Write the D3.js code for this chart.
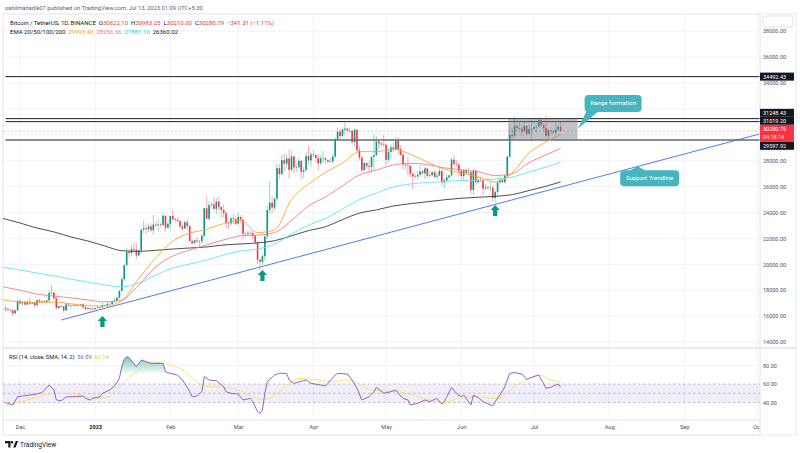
<!DOCTYPE html>
<html>
<head>
<meta charset="utf-8">
<script src="https://cdn.jsdelivr.net/npm/d3@7"></script>
<style>
body { margin: 0; background: #fff; }
svg { display: block; font-family: Roboto, "Liberation Sans", sans-serif; }
</style>
</head>
<body>
<div id="canvas"></div>
<script>
"use strict"

let drawingWidth = 800;
let drawingHeight = 453;

/* Daily BTC/USDT candles, one per day starting at firstDay: [open, high, low, close] */
let firstDay = "2022-11-25";
let candles = [
    // Nov 25 - 30
    [16600,16810,16330,16520],[16520,16680,16400,16460],[16460,16600,16400,16440],[16440,16490,15990,16220],[16220,16530,16110,16440],[16440,17250,16430,17170],
    // Dec
    [17170,17320,16870,16980],[16980,17110,16790,17100],[17100,17160,16860,16890],[16890,17200,16880,17110],[17110,17430,16880,16970],
    [16970,17110,16910,17090],[17090,17140,16680,16840],[16840,17300,16730,17230],[17230,17360,17060,17130],[17130,17230,17090,17130],
    [17130,17270,17070,17090],[17090,17240,16870,17210],[17210,18000,17090,17780],[17780,18390,17660,17810],[17810,17850,17280,17360],
    [17360,17530,16530,16630],[16630,16800,16580,16780],[16780,16860,16670,16740],[16740,16820,16260,16440],[16440,17060,16400,16900],
    [16900,16920,16760,16820],[16820,16870,16560,16830],[16830,16960,16750,16780],[16780,16870,16780,16840],[16840,16860,16730,16830],
    [16830,16940,16790,16920],[16920,16970,16590,16700],[16700,16780,16470,16550],[16550,16660,16490,16630],[16630,16650,16330,16600],
    [16600,16640,16470,16540],
    // Jan
    [16540,16630,16500,16620],[16620,16790,16550,16680],[16680,16760,16570,16670],[16670,17090,16660,16850],[16850,16880,16750,16830],
    [16830,17040,16680,16950],[16950,16970,16910,16940],[16940,17180,16910,17120],[17120,17400,17100,17180],[17180,17500,17160,17440],
    [17440,18000,17320,17940],[17940,19110,17910,18850],[18850,19990,18710,19930],[19930,21260,19890,20950],[20950,21050,20550,20870],
    [20870,21470,20620,21180],[21180,21650,20900,21130],[21130,21650,20400,20680],[20680,21190,20660,21070],[21070,22750,20860,22670],
    [22670,23380,22420,22780],[22780,23080,22290,22710],[22710,23170,22500,22920],[22920,23160,22460,22630],[22630,23810,22300,23060],
    [23060,23290,22860,23010],[23010,23500,22530,23080],[23080,23180,22880,23030],[23030,23960,22990,23740],[23740,23800,22540,22830],
    [22830,23310,22720,23120],
    // Feb
    [23120,23760,22760,23730],[23730,24250,23370,23490],[23490,23580,23210,23430],[23430,23590,23250,23330],[23330,23440,22760,22930],
    [22930,23160,22630,22760],[22760,23360,22750,23250],[23250,23450,22680,22960],[22960,23010,21690,21800],[21800,21940,21450,21630],
    [21630,21900,21600,21860],[21860,22090,21630,21780],[21780,21890,21350,21780],[21780,22320,21530,22200],[22200,24380,22050,24330],
    [24330,25250,23510,23520],[23520,24880,23340,24570],[24570,24760,24460,24630],[24630,25190,24220,24280],[24280,25120,23840,24840],
    [24840,25250,24150,24440],[24440,24470,23580,24190],[24190,24600,23610,23950],[23950,24130,22860,23180],[23180,23210,22720,23160],
    [23160,23690,22970,23550],[23550,23880,23110,23490],[23490,23600,23020,23140],
    // Mar
    [23140,24000,23020,23650],[23650,23780,23200,23470],[23470,23480,21970,22360],[22360,22420,22090,22350],[22350,22620,22200,22430],
    [22430,22600,22270,22410],[22410,22550,21930,22200],[22200,22270,21580,21700],[21700,21820,20050,20360],[20360,20370,19550,20190],
    [20190,20790,19950,20630],[20630,22190,20280,22160],[22160,24500,21920,24200],[24200,26390,23900,24750],[24750,25250,23930,24380],
    [24380,25210,24120,25060],[25060,27760,24890,27420],[27420,27730,26580,26970],[26970,28470,26900,28040],[28040,28550,27150,27770],
    [27770,28500,27380,28170],[28170,28880,26600,27300],[27300,28750,27150,28330],[28330,28400,27020,27490],[27490,27800,27160,27490],
    [27490,28200,27450,27990],[27990,28040,26550,27140],[27140,27500,26640,27270],[27270,28650,27240,28350],[28350,29170,27720,28030],
    [28030,28660,27530,28480],
    // Apr
    [28480,28820,28250,28450],[28450,28530,27870,28200],[28200,28500,27210,27800],[27800,28440,27660,28180],[28180,28780,27820,28180],
    [28180,28190,27710,28050],[28050,28100,27780,27930],[27930,28170,27880,27950],[27950,28530,27800,28330],[28330,29770,28170,29660],
    [29660,30550,29620,30230],[30230,30490,29680,29900],[29900,30600,29880,30400],[30400,31000,29950,30490],[30490,30620,30240,30320],
    [30320,30550,30120,30320],[30320,30340,29270,29440],[29440,30490,29120,30400],[30400,30410,28600,28820],[28820,29100,28010,28250],
    [28250,28380,27130,27270],[27270,27880,27170,27820],[27820,27820,27340,27590],[27590,28000,26970,27520],[27520,28400,27030,28300],
    [28300,30020,27240,28430],[28430,29890,28380,29480],[29480,29600,28880,29340],[29340,29460,29090,29250],[29250,29970,29100,29230],
    // May
    [29230,29340,27670,28070],[28070,28880,27870,28680],[28680,29270,28110,29030],[29030,29380,28670,28850],[28850,29850,28810,29530],
    [29530,29840,28390,28900],[28900,29180,28380,28450],[28450,28660,27320,27690],[27690,27830,27360,27650],[27650,28330,26870,27620],
    [27620,27650,26740,26990],[26990,27080,25810,26800],[26800,27040,26700,26780],[26780,27200,26570,26920],[26920,27670,26740,27170],
    [27170,27300,26860,27030],[27030,27480,26580,27400],[27400,27480,26650,26830],[26830,27190,26680,26890],[26890,27160,26830,27120],
    [27120,27280,26680,26750],[26750,27070,26510,26850],[26850,27500,26830,27220],[27220,27220,26090,26330],[26330,26630,25870,26480],
    [26480,26940,26330,26720],[26720,26890,26580,26870],[26870,28200,26790,28080],[28080,28450,27560,27740],[27740,28040,27550,27700],
    [27700,27830,26820,27210],
    // Jun
    [27210,27350,26600,26820],[26820,27300,26500,27250],[27250,27340,26920,27070],[27070,27450,26950,27120],[27120,27130,25390,25740],
    [25740,27350,25350,27230],[27230,27370,26120,26340],[26340,26800,26210,26500],[26500,26790,26320,26480],[26480,26530,25370,25850],
    [25850,26210,25730,25940],[25940,26090,25710,25900],[25900,26430,25640,25920],[25920,26100,24820,25120],[25120,25750,24760,25580],
    [25580,26470,25170,26330],[26330,26770,26160,26510],[26510,26680,26290,26340],[26340,26890,26250,26840],[26840,28400,26630,28310],
    [28310,30800,28260,30000],[30000,30500,29530,29890],[29890,31430,29810,30690],[30690,30800,30250,30530],[30530,31060,30270,30470],
    [30470,30660,29920,30270],[30270,31000,30230,30700],[30700,30710,29930,30080],[30080,30830,30040,30450],[30450,31280,29500,30470],
    // Jul 1 - 12
    [30470,30660,30320,30590],[30590,30800,30170,30620],[30620,31380,30560,31160],[31160,31320,30640,30770],[30770,30880,30200,30510],
    [30510,31500,29850,29900],[29900,30450,29700,30350],[30350,30380,30050,30290],[30290,30440,30070,30170],[30170,31050,29950,30410],
    [30410,30800,30290,30622.10],[30622.10,30983.25,30210.00,30280.79]
];

/* EMA 20/50/100/200, weekly */
let emaDates = ["2022-11-23","2022-12-01","2022-12-08","2022-12-15","2022-12-22","2022-12-29","2023-01-05","2023-01-12",
    "2023-01-19","2023-01-26","2023-02-02","2023-02-09","2023-02-16","2023-02-23","2023-03-02","2023-03-09","2023-03-16",
    "2023-03-23","2023-03-30","2023-04-06","2023-04-13","2023-04-20","2023-04-27","2023-05-04","2023-05-11","2023-05-18",
    "2023-05-25","2023-06-01","2023-06-08","2023-06-15","2023-06-22","2023-06-29","2023-07-06","2023-07-12"];
let ema20 = [17300,17090,17050,17080,16950,16800,16780,17200,18900,20500,21800,22400,22700,23150,23400,22450,22650,
    25000,26200,27100,27800,28700,28700,28900,28500,27900,27350,27050,26750,26350,27050,28600,29450,29993.40];
let ema50 = [18300,18000,17700,17550,17400,17250,17100,17250,18400,19800,20640,21100,21500,21880,22200,22250,22450,
    23400,24500,25200,26050,26900,27280,27670,27800,27700,27450,27300,27150,26850,27000,27850,28450,28956.36];
let ema100 = [19800,19560,19330,19100,18860,18630,18400,18250,18560,19170,19710,20020,20330,20720,21030,21180,21570,
    22340,23030,23540,24270,25000,25500,25970,26200,26320,26400,26470,26500,26590,26740,27130,27510,27881.16];
let ema200 = [23580,23190,22800,22500,22110,21800,21410,21050,21000,21080,21180,21260,21340,21490,21570,21650,21820,
    22200,22600,22900,23450,23950,24200,24500,24680,24830,24980,25100,25180,25250,25380,25700,26030,26360.02];

let rsiDates = ["2022-11-25","2022-11-27","2022-11-28","2022-11-30","2022-12-02","2022-12-05","2022-12-08","2022-12-10",
    "2022-12-13","2022-12-15","2022-12-16","2022-12-18","2022-12-20","2022-12-22","2022-12-24","2022-12-27","2022-12-28",
    "2022-12-30","2022-12-31","2023-01-03","2023-01-04","2023-01-07","2023-01-09","2023-01-11","2023-01-12","2023-01-13",
    "2023-01-14","2023-01-15","2023-01-18","2023-01-20","2023-01-24","2023-01-29","2023-01-30","2023-02-01","2023-02-04",
    "2023-02-06","2023-02-07","2023-02-09","2023-02-10","2023-02-12","2023-02-14","2023-02-15","2023-02-17","2023-02-20",
    "2023-02-23","2023-02-24","2023-02-26","2023-03-01","2023-03-03","2023-03-06","2023-03-07","2023-03-09","2023-03-10",
    "2023-03-11","2023-03-12","2023-03-13","2023-03-16","2023-03-18","2023-03-21","2023-03-22","2023-03-24","2023-03-29",
    "2023-03-31","2023-04-04","2023-04-06","2023-04-10","2023-04-11","2023-04-15","2023-04-17","2023-04-19","2023-04-21",
    "2023-04-24","2023-04-26","2023-04-27","2023-04-30","2023-05-03","2023-05-05","2023-05-06","2023-05-08","2023-05-10",
    "2023-05-11","2023-05-14","2023-05-17","2023-05-19","2023-05-22","2023-05-24","2023-05-25","2023-05-28","2023-05-30",
    "2023-06-01","2023-06-02","2023-06-05","2023-06-06","2023-06-08","2023-06-10","2023-06-14","2023-06-15","2023-06-17",
    "2023-06-19","2023-06-21","2023-06-23","2023-06-26","2023-06-28","2023-06-30","2023-07-03","2023-07-06","2023-07-08",
    "2023-07-10","2023-07-11","2023-07-12"];
let rsiValues = [39.8,38.4,37.3,46.3,47.0,48.1,49.2,50.6,
    58.9,53.5,42.7,42.0,46.0,46.3,46.3,47.0,44.5,
    42.7,44.5,46.3,49.9,53.5,57.8,66.1,78.7,86.7,
    89.5,88.5,78.7,86.0,82.3,82.3,73.3,71.5,69.7,
    64.3,60.7,51.7,46.3,47.0,51.7,67.9,64.3,63.6,
    57.1,51.7,49.9,49.2,42.7,44.5,40.9,30.1,28.3,
    31.9,49.9,62.5,69.7,71.5,71.5,64.3,60.7,64.3,
    60.7,58.9,57.8,69.7,71.5,70.8,64.3,55.3,42.7,
    46.3,51.7,56.4,49.9,51.7,53.5,49.9,44.5,42.7,
    37.3,39.1,42.7,40.9,44.5,38.4,40.9,56.4,49.9,
    46.3,48.1,37.3,48.1,45.2,40.9,36.2,40.9,48.1,
    57.1,71.5,72.3,70.8,65.0,67.2,69.7,55.3,56.4,
    58.9,60.0,56.59];
let rsiSmaDates = ["2022-11-25","2022-12-01","2022-12-09","2022-12-13","2022-12-17","2022-12-26","2022-12-31","2023-01-07",
    "2023-01-09","2023-01-13","2023-01-19","2023-01-25","2023-01-29","2023-02-03","2023-02-08","2023-02-13","2023-02-16",
    "2023-02-24","2023-03-01","2023-03-07","2023-03-11","2023-03-15","2023-03-19","2023-03-23","2023-03-26","2023-04-03",
    "2023-04-09","2023-04-15","2023-04-19","2023-04-25","2023-05-06","2023-05-14","2023-05-22","2023-05-25","2023-05-31",
    "2023-06-08","2023-06-13","2023-06-17","2023-06-21","2023-06-28","2023-07-03","2023-07-08","2023-07-12"];
let rsiSmaValues = [36.2,40.9,46.3,49.2,49.9,48.1,44.5,46.3,
    51.7,62.5,75.1,84.1,82.3,78.7,71.5,60.7,57.1,
    56.4,53.5,46.3,42.7,46.3,53.5,62.5,66.1,64.3,
    62.5,64.3,60.7,53.5,51.7,46.3,40.9,39.8,44.5,
    46.3,44.5,44.5,53.5,64.3,69.7,64.3,62.14];

/* Drawn levels, trendline, markers and notes */
let levelStart = "2022-11-25";
let levelPrices = [34492.43, 31248.43, 31019.20, 29597.92];
let countdown = "04:18:14";
let rangeBox = ["2023-06-21", "2023-07-19"];
let trendline = [["2022-12-18", 15700], ["2023-10-02", 30060]];
let arrowPoints = [["2023-01-04", 16000], ["2023-03-11", 19560], ["2023-06-15", 24580]];
let rangeNote = ["Range formation", "2023-07-19", 30450];
let trendNote = ["Support Trendline", "2023-08-13"];

/* Axis ticks */
let priceTicks = [14000, 16000, 18000, 20000, 22000, 24000, 26000, 28000, 30000, 32000, 34000, 36000, 38000];
let rsiTicks = [40, 60, 80];
let rsiLevels = [40, 50, 60];
let monthTicks = ["2022-12-01","2023-01-01","2023-02-01","2023-03-01","2023-04-01","2023-05-01","2023-06-01",
    "2023-07-01","2023-08-01","2023-09-01","2023-10-01"];
let monthLabels = ["Dec", "2023", "Feb", "Mar", "Apr", "May", "Jun", "Jul", "Aug", "Sep", "Oct"];

let upColor = "#089981";
let downColor = "#f23645";
let textColor = "#131722";
let axisText = "#50535e";
let gridColor = "#f0f3fa";
let borderColor = "#e0e3eb";

let parseDate = d3.utcParse("%Y-%m-%d");
let dayOf = i => d3.utcDay.offset(parseDate(firstDay), i);

let x = d3.scaleUtc()
    .domain([parseDate("2022-12-01"), parseDate("2023-10-01")])
    .range([20, 757]);
let y = d3.scaleLinear().domain([14000, 38000]).range([342, 31.2]);
let rsiY = d3.scaleLinear().domain([40, 80]).range([402.5, 365.5]);

let paneLeft = 3, paneRight = 760;
let priceTop = 14, priceBottom = 347;
let rsiTop = 349, rsiBottom = 420, frameBottom = 435;

let drawing = d3.select("#canvas")
    .append("svg")
    .attr("width", drawingWidth)
    .attr("height", drawingHeight);

drawing.append("rect")
    .attr("width", drawingWidth)
    .attr("height", drawingHeight)
    .attr("fill", "#ffffff");

let defs = drawing.append("defs");
defs.append("clipPath").attr("id", "priceClip")
    .append("rect")
    .attr("x", paneLeft).attr("y", priceTop)
    .attr("width", paneRight - paneLeft).attr("height", priceBottom - priceTop);
defs.append("clipPath").attr("id", "rsiClip")
    .append("rect")
    .attr("x", paneLeft).attr("y", rsiTop)
    .attr("width", paneRight - paneLeft).attr("height", rsiBottom - rsiTop);
let obGrad = defs.append("linearGradient").attr("id", "obGrad")
    .attr("gradientUnits", "userSpaceOnUse")
    .attr("x1", 0).attr("x2", 0)
    .attr("y1", rsiY(92)).attr("y2", rsiY(70));
obGrad.append("stop").attr("offset", 0).attr("stop-color", upColor).attr("stop-opacity", 0.6);
obGrad.append("stop").attr("offset", 1).attr("stop-color", upColor).attr("stop-opacity", 0);

/* Grid */
let grid = drawing.append("g");
grid.selectAll(".hgrid")
    .data(priceTicks)
    .enter().append("line")
    .attr("x1", paneLeft).attr("x2", paneRight)
    .attr("y1", d => y(d)).attr("y2", d => y(d))
    .attr("stroke", gridColor);
grid.append("line")
    .attr("x1", paneLeft).attr("x2", paneRight)
    .attr("y1", rsiY(80)).attr("y2", rsiY(80))
    .attr("stroke", gridColor);
grid.selectAll(".vgrid")
    .data(monthTicks)
    .enter().append("line")
    .attr("x1", d => x(parseDate(d))).attr("x2", d => x(parseDate(d)))
    .attr("y1", priceTop).attr("y2", rsiBottom)
    .attr("stroke", gridColor);

/* Frame and pane separators */
drawing.append("rect")
    .attr("x", paneLeft).attr("y", priceTop)
    .attr("width", 796 - paneLeft).attr("height", frameBottom - priceTop)
    .attr("fill", "none").attr("stroke", borderColor);
drawing.append("line")
    .attr("x1", paneLeft).attr("x2", 796)
    .attr("y1", 348).attr("y2", 348)
    .attr("stroke", borderColor).attr("stroke-width", 1.5);
drawing.append("line")
    .attr("x1", paneLeft).attr("x2", paneRight)
    .attr("y1", rsiBottom).attr("y2", rsiBottom)
    .attr("stroke", borderColor);

/* Price pane */
let pricePane = drawing.append("g").attr("clip-path", "url(#priceClip)");

pricePane.selectAll(".level")
    .data(levelPrices)
    .enter().append("line")
    .attr("x1", x(parseDate(levelStart))).attr("x2", paneRight)
    .attr("y1", d => y(d)).attr("y2", d => y(d))
    .attr("stroke", "#1e1e1e").attr("stroke-width", 1);

let lastCandle = candles[candles.length - 1];
let lastPrice = lastCandle[3];

pricePane.append("line")
    .attr("x1", paneLeft).attr("x2", paneRight)
    .attr("y1", y(lastPrice)).attr("y2", y(lastPrice))
    .attr("stroke", downColor).attr("stroke-opacity", 0.35)
    .attr("stroke-dasharray", "2,2");

pricePane.append("line")
    .attr("x1", x(parseDate(trendline[0][0]))).attr("y1", y(trendline[0][1]))
    .attr("x2", x(parseDate(trendline[1][0]))).attr("y2", y(trendline[1][1]))
    .attr("stroke", "#3d6cf5").attr("stroke-width", 0.9);

/* Candles */
let candleGroup = pricePane.append("g");
let bodyWidth = 1.6;
candleGroup.selectAll(".wick")
    .data(candles)
    .enter().append("line")
    .attr("x1", (d, i) => x(dayOf(i))).attr("x2", (d, i) => x(dayOf(i)))
    .attr("y1", d => y(d[1])).attr("y2", d => y(d[2]))
    .attr("stroke", d => d[3] >= d[0] ? upColor : downColor)
    .attr("stroke-opacity", 0.7)
    .attr("stroke-width", 0.6);
candleGroup.selectAll(".body")
    .data(candles)
    .enter().append("rect")
    .attr("x", (d, i) => x(dayOf(i)) - bodyWidth / 2)
    .attr("y", d => y(Math.max(d[0], d[3])))
    .attr("width", bodyWidth)
    .attr("height", d => Math.max(0.6, Math.abs(y(d[0]) - y(d[3]))))
    .attr("fill", d => d[3] >= d[0] ? upColor : downColor);

/* EMA lines */
let emaLine = d3.line()
    .x((d, i) => x(parseDate(emaDates[i])))
    .y(d => y(d))
    .curve(d3.curveMonotoneX);
let emaSeries = [[ema200, "#3a3a3a"], [ema100, "#5ce8f0"], [ema50, "#f77c80"], [ema20, "#f7a531"]];
emaSeries.forEach(function (s) {
    pricePane.append("path")
        .attr("d", emaLine(s[0]))
        .attr("fill", "none")
        .attr("stroke", s[1])
        .attr("stroke-width", 0.9);
});

/* Range box over the consolidation */
let boxLeft = x(parseDate(rangeBox[0])) - 1.5;
let boxRight = x(parseDate(rangeBox[1]));
pricePane.append("rect")
    .attr("x", boxLeft)
    .attr("y", y(levelPrices[1]))
    .attr("width", boxRight - boxLeft)
    .attr("height", y(levelPrices[3]) - y(levelPrices[1]))
    .attr("fill", "rgba(120,123,134,0.45)");

/* Up arrows at the trendline touches */
pricePane.selectAll(".arrow")
    .data(arrowPoints)
    .enter().append("path")
    .attr("transform", d => "translate(" + x(parseDate(d[0])) + "," + y(d[1]) + ")")
    .attr("d", "M0,0 L4.6,5 L2.1,5 L2.1,11 L-2.1,11 L-2.1,5 L-4.6,5 Z")
    .attr("fill", upColor);

/* Callouts */
let noteColor = "#47b5bf";
let rx = x(parseDate(rangeNote[1])), ry = y(rangeNote[2]);
let rBox = {x: rx + 7, y: ry - 34, w: 57, h: 17};
drawing.append("path")
    .attr("d", "M" + rx + "," + ry + " L" + (rBox.x + 3) + "," + (rBox.y + rBox.h - 3) +
        " L" + (rBox.x + 13) + "," + (rBox.y + rBox.h) + " Z")
    .attr("fill", noteColor);
drawing.append("rect")
    .attr("x", rBox.x).attr("y", rBox.y)
    .attr("width", rBox.w).attr("height", rBox.h)
    .attr("rx", 4)
    .attr("fill", noteColor);
drawing.append("text")
    .attr("x", rBox.x + rBox.w / 2).attr("y", rBox.y + rBox.h / 2 + 2)
    .attr("text-anchor", "middle")
    .attr("font-size", 6.2)
    .attr("fill", "#ffffff")
    .text(rangeNote[0]);

let trendAt = d3.scaleUtc()
    .domain([parseDate(trendline[0][0]), parseDate(trendline[1][0])])
    .range([trendline[0][1], trendline[1][1]]);
let tDate = parseDate(trendNote[1]);
let tx = x(tDate), ty = y(trendAt(tDate));
let tBox = {x: tx - 18, y: ty + 4, w: 59, h: 16};
drawing.append("path")
    .attr("d", "M" + tx + "," + ty + " L" + (tBox.x + 8) + "," + (tBox.y + 1) +
        " L" + (tBox.x + 26) + "," + (tBox.y + 1) + " Z")
    .attr("fill", noteColor);
drawing.append("rect")
    .attr("x", tBox.x).attr("y", tBox.y)
    .attr("width", tBox.w).attr("height", tBox.h)
    .attr("rx", 4)
    .attr("fill", noteColor);
drawing.append("text")
    .attr("x", tBox.x + tBox.w / 2).attr("y", tBox.y + tBox.h / 2 + 2)
    .attr("text-anchor", "middle")
    .attr("font-size", 6)
    .attr("fill", "#ffffff")
    .text(trendNote[0]);

/* RSI pane */
let rsiPane = drawing.append("g").attr("clip-path", "url(#rsiClip)");
rsiPane.append("rect")
    .attr("x", paneLeft).attr("y", rsiY(60))
    .attr("width", paneRight - paneLeft).attr("height", rsiY(40) - rsiY(60))
    .attr("fill", "rgba(126,87,194,0.1)");
rsiPane.selectAll(".rsiLevel")
    .data(rsiLevels)
    .enter().append("line")
    .attr("x1", paneLeft).attr("x2", paneRight)
    .attr("y1", d => rsiY(d)).attr("y2", d => rsiY(d))
    .attr("stroke", "#787b86").attr("stroke-opacity", 0.55)
    .attr("stroke-dasharray", "2.5,2.5").attr("stroke-width", 0.8);

let rsiPoints = rsiDates.map((d, i) => ({date: parseDate(d), v: rsiValues[i]}));
rsiPane.append("path")
    .attr("d", d3.area()
        .x(d => x(d.date))
        .y0(rsiY(70))
        .y1(d => rsiY(Math.max(d.v, 70)))(rsiPoints))
    .attr("fill", "url(#obGrad)");
rsiPane.append("path")
    .attr("d", d3.line()
        .x((d, i) => x(parseDate(rsiSmaDates[i])))
        .y(d => rsiY(d))
        .curve(d3.curveMonotoneX)(rsiSmaValues))
    .attr("fill", "none")
    .attr("stroke", "#f9e063")
    .attr("stroke-width", 0.9);
rsiPane.append("path")
    .attr("d", d3.line().x(d => x(d.date)).y(d => rsiY(d.v))(rsiPoints))
    .attr("fill", "none")
    .attr("stroke", "#7e57c2")
    .attr("stroke-width", 0.9);

/* Time axis */
let timeAxis = drawing.append("g")
    .attr("transform", "translate(0," + rsiBottom + ")")
    .call(d3.axisBottom(x)
        .tickValues(monthTicks.map(parseDate))
        .tickFormat((d, i) => monthLabels[i])
        .tickSize(0)
        .tickPadding(5));
timeAxis.select(".domain").remove();
timeAxis.selectAll("text")
    .attr("font-size", 5.6)
    .attr("font-family", "Roboto, sans-serif")
    .attr("fill", (d, i) => i == 1 ? textColor : axisText)
    .attr("font-weight", (d, i) => i == 1 ? "bold" : "normal");

/* Price scale area */
drawing.append("rect")
    .attr("x", paneRight).attr("y", priceTop + 0.5)
    .attr("width", 796 - paneRight - 0.5).attr("height", frameBottom - priceTop - 1)
    .attr("fill", "#ffffff");
drawing.append("line")
    .attr("x1", paneRight).attr("x2", paneRight)
    .attr("y1", priceTop).attr("y2", frameBottom)
    .attr("stroke", borderColor);
drawing.append("line")
    .attr("x1", paneRight).attr("x2", 796)
    .attr("y1", 348).attr("y2", 348)
    .attr("stroke", borderColor).attr("stroke-width", 1.5);
drawing.append("rect")
    .attr("x", 763).attr("y", 16)
    .attr("width", 30).attr("height", 11)
    .attr("rx", 2)
    .attr("fill", "#ffffff").attr("stroke", borderColor);

/* Price tags on the scale, stacked where they collide */
let fmt = d3.format(".2f");
let tags = levelPrices.map(p => ({value: p, lines: [fmt(p)], h: 8, fill: textColor}));
tags.push({value: lastPrice, lines: [fmt(lastPrice), countdown], h: 17, fill: downColor});
tags.forEach(t => t.cy = y(t.value));
tags.sort((a, b) => a.cy - b.cy);
let groups = [];
tags.forEach(function (t) {
    let g = groups[groups.length - 1];
    if (g) {
        let prev = g[g.length - 1];
        if (t.cy - prev.cy < (t.h + prev.h) / 2) {
            g.push(t);
            return;
        }
    }
    groups.push([t]);
});
groups.forEach(function (g) {
    let total = d3.sum(g, t => t.h);
    let top = (g[0].cy + g[g.length - 1].cy) / 2 - total / 2;
    g.forEach(function (t) {
        t.top = top;
        top += t.h;
    });
});

/* Scale labels hidden behind a tag are left out, as on the scale itself */
let underTag = v => tags.some(t => y(v) > t.top - 1.5 && y(v) < t.top + t.h + 1.5);
let priceAxis = drawing.append("g")
    .attr("transform", "translate(" + paneRight + ",0)")
    .call(d3.axisRight(y)
        .tickValues(priceTicks.filter(v => !underTag(v)))
        .tickFormat(d3.format(".2f"))
        .tickSize(0)
        .tickPadding(3));
let rsiAxis = drawing.append("g")
    .attr("transform", "translate(" + paneRight + ",0)")
    .call(d3.axisRight(rsiY)
        .tickValues(rsiTicks)
        .tickFormat(d3.format(".2f"))
        .tickSize(0)
        .tickPadding(3));
[priceAxis, rsiAxis].forEach(function (a) {
    a.select(".domain").remove();
    a.selectAll("text")
        .attr("font-size", 5.5)
        .attr("font-family", "Roboto, sans-serif")
        .attr("fill", axisText);
});

let tagGroup = drawing.append("g");
tags.forEach(function (t) {
    tagGroup.append("rect")
        .attr("x", paneRight).attr("y", t.top)
        .attr("width", 34).attr("height", t.h)
        .attr("fill", t.fill);
    t.lines.forEach(function (line, k) {
        tagGroup.append("text")
            .attr("x", paneRight + 3)
            .attr("y", t.top + 6 + k * 8)
            .attr("font-size", 5.5)
            .attr("fill", "#ffffff")
            .attr("fill-opacity", k == 1 ? 0.85 : 1)
            .text(line);
    });
});

/* Legend */
drawing.append("text")
    .attr("x", 5).attr("y", 9.5)
    .attr("font-size", 5.8)
    .attr("fill", "#5d606b")
    .text("sahilmahadik07 published on TradingView.com, Jul 13, 2023 01:09 UTC+5:30");

let prevClose = candles[candles.length - 2][3];
let change = lastPrice - prevClose;
let legend2 = drawing.append("text")
    .attr("x", 10).attr("y", 24.5)
    .attr("font-size", 6)
    .style("white-space", "pre");
let ohlcColor = change < 0 ? downColor : upColor;
[["Bitcoin / TetherUS, 1D, BINANCE  ", textColor],
 ["O", textColor], [fmt(lastCandle[0]) + "  ", ohlcColor],
 ["H", textColor], [fmt(lastCandle[1]) + "  ", ohlcColor],
 ["L", textColor], [fmt(lastCandle[2]) + "  ", ohlcColor],
 ["C", textColor], [fmt(lastCandle[3]) + "  ", ohlcColor],
 [fmt(change).replace("-", "\u2212") + " (" + fmt(change / prevClose * 100).replace("-", "\u2212") + "%)", ohlcColor]]
    .forEach(function (p) {
        legend2.append("tspan").attr("fill", p[1]).text(p[0]);
    });

let legend3 = drawing.append("text")
    .attr("x", 10).attr("y", 33.5)
    .attr("font-size", 6)
    .style("white-space", "pre");
[["EMA 20/50/100/200  ", textColor],
 [fmt(ema20[ema20.length - 1]) + "  ", "#f7a531"],
 [fmt(ema50[ema50.length - 1]) + "  ", "#f77c80"],
 [fmt(ema100[ema100.length - 1]) + "  ", "#22d3e6"],
 [fmt(ema200[ema200.length - 1]), textColor]]
    .forEach(function (p) {
        legend3.append("tspan").attr("fill", p[1]).text(p[0]);
    });

let legendRsi = drawing.append("text")
    .attr("x", 9).attr("y", 359)
    .attr("font-size", 5.7)
    .style("white-space", "pre");
[["RSI (14, close, SMA, 14, 2)  ", textColor],
 [fmt(rsiValues[rsiValues.length - 1]) + "  ", "#7e57c2"],
 [fmt(rsiSmaValues[rsiSmaValues.length - 1]), "#e8c93a"]]
    .forEach(function (p) {
        legendRsi.append("tspan").attr("fill", p[1]).text(p[0]);
    });

/* TradingView mark */
drawing.append("path")
    .attr("d", "M5,441 h5.5 v6.5 h-2.2 v-4.3 h-3.3 Z M13.2,447.5 l2.6,-6.5 h2.3 l-2.6,6.5 Z")
    .attr("fill", textColor);
drawing.append("circle")
    .attr("cx", 12).attr("cy", 442.3).attr("r", 1.2)
    .attr("fill", textColor);
drawing.append("text")
    .attr("x", 20).attr("y", 446.8)
    .attr("font-size", 6.6)
    .attr("fill", textColor)
    .text("TradingView");
</script>
</body>
</html>
